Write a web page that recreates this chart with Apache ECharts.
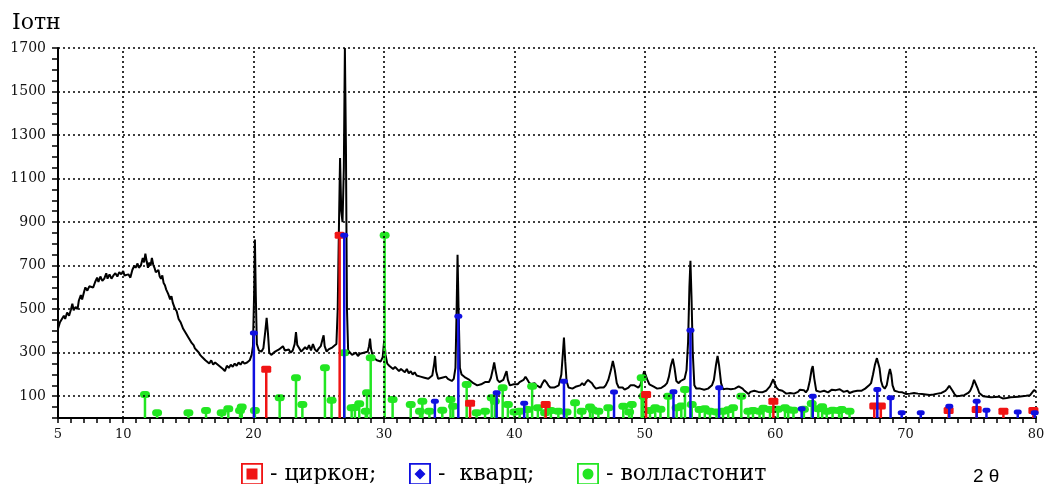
<!DOCTYPE html>
<html>
<head>
    <meta charset="UTF-8">
    <title>XRD</title>
    <script src="https://cdn.jsdelivr.net/npm/echarts@6/dist/echarts.min.js"></script>
</head>
<body style="margin:0">
<div id="chart" style="width:1048px; height:484px;"></div>
<script>
    // 2theta / intensity of the measured pattern
    var pattern = [
        [5.0,410],[5.15,440],[5.3,455],[5.45,470],[5.55,455],[5.7,485],[5.85,470],[6.0,500],[6.1,525],[6.2,495],
        [6.35,510],[6.5,500],[6.6,540],[6.75,565],[6.85,545],[7.0,580],[7.1,600],[7.25,585],[7.4,605],[7.55,610],
        [7.7,600],[7.85,625],[8.0,645],[8.1,625],[8.25,650],[8.4,630],[8.55,640],[8.7,665],[8.8,640],[8.95,660],
        [9.1,640],[9.25,655],[9.4,665],[9.55,650],[9.7,670],[9.85,660],[10.0,675],[10.1,655],[10.25,650],[10.4,660],
        [10.55,645],[10.7,680],[10.85,700],[10.95,690],[11.1,710],[11.2,690],[11.35,700],[11.5,735],[11.6,715],[11.7,755],
        [11.8,720],[11.9,690],[12.0,715],[12.1,700],[12.2,735],[12.3,705],[12.4,690],[12.5,670],[12.6,665],[12.7,680],
        [12.8,650],[12.9,640],[13.0,655],[13.1,620],[13.2,610],[13.3,590],[13.45,570],[13.6,545],[13.7,560],[13.8,530],
        [13.95,505],[14.1,490],[14.25,455],[14.4,440],[14.5,445],[14.6,410],[14.75,395],[14.9,400],[15.0,370],[15.15,355],
        [15.25,345],[15.4,335],[15.5,320],[15.65,310],[15.8,300],[15.9,290],[16.05,280],[16.15,285],[16.3,265],[16.45,270],
        [16.6,250],[16.75,265],[16.9,245],[17.05,255],[17.2,260],[17.35,240],[17.5,235],[17.65,225],[17.8,215],[17.95,240],
        [18.1,230],[18.25,245],[18.4,235],[18.55,250],[18.7,240],[18.85,255],[19.0,245],[19.15,260],[19.3,250],[19.5,255],
        [19.7,265],[19.85,290],[19.95,330],[20.05,600],[20.1,820],[20.17,560],[20.25,340],[20.4,310],[20.6,305],[20.75,320],
        [20.9,400],[21.0,460],[21.1,390],[21.2,300],[21.35,290],[21.5,295],[21.65,305],[21.8,300],[21.95,315],[22.1,320],
        [22.25,330],[22.4,310],[22.55,305],[22.7,315],[22.85,300],[23.0,310],[23.15,340],[23.25,395],[23.35,335],[23.5,320],
        [23.65,305],[23.8,310],[23.95,325],[24.1,315],[24.25,335],[24.4,310],[24.55,340],[24.7,315],[24.85,305],[25.0,320],
        [25.15,330],[25.3,365],[25.37,380],[25.45,330],[25.6,305],[25.75,315],[25.9,320],[26.05,325],[26.2,330],[26.35,340],
        [26.45,500],[26.55,900],[26.63,1195],[26.72,950],[26.82,900],[26.92,1150],[27.0,1700],[27.08,1250],[27.16,500],[27.25,310],
        [27.4,300],[27.55,290],[27.7,295],[27.85,300],[28.0,285],[28.15,295],[28.3,290],[28.45,300],[28.6,295],[28.75,305],
        [28.85,330],[28.93,365],[29.0,320],[29.15,280],[29.3,275],[29.45,265],[29.6,270],[29.75,260],[29.9,280],[30.02,360],
        [30.12,290],[30.25,250],[30.4,240],[30.55,245],[30.7,225],[30.85,235],[31.0,230],[31.15,215],[31.3,225],[31.45,220],
        [31.6,210],[31.75,225],[31.9,205],[32.05,215],[32.2,200],[32.35,210],[32.5,195],[32.65,200],[32.8,190],[32.95,195],
        [33.1,185],[33.25,190],[33.4,180],[33.55,185],[33.7,195],[33.85,250],[33.92,285],[34.0,215],[34.15,180],[34.3,175],
        [34.45,185],[34.6,180],[34.75,190],[34.9,180],[35.05,175],[35.2,170],[35.35,180],[35.48,230],[35.57,500],[35.64,750],
        [35.72,500],[35.82,230],[35.95,200],[36.1,195],[36.25,185],[36.4,190],[36.55,175],[36.7,170],[36.85,160],[37.0,155],
        [37.15,150],[37.3,145],[37.45,155],[37.6,160],[37.75,165],[37.9,170],[38.05,165],[38.2,185],[38.35,225],[38.45,255],
        [38.55,220],[38.7,175],[38.85,165],[39.0,170],[39.15,175],[39.3,200],[39.4,215],[39.5,175],[39.65,150],[39.8,145],
        [39.95,155],[40.1,160],[40.25,155],[40.4,165],[40.55,160],[40.7,175],[40.85,190],[40.95,180],[41.1,165],[41.25,155],
        [41.4,150],[41.55,160],[41.7,150],[41.85,145],[42.0,140],[42.15,160],[42.3,175],[42.45,165],[42.6,150],[42.75,140],
        [42.9,145],[43.05,140],[43.2,145],[43.4,150],[43.6,200],[43.72,300],[43.8,370],[43.9,260],[44.0,170],[44.15,140],
        [44.3,145],[44.45,135],[44.6,140],[44.75,145],[44.9,140],[45.05,150],[45.2,160],[45.35,150],[45.5,165],[45.65,175],
        [45.8,178],[45.95,160],[46.1,145],[46.25,135],[46.4,130],[46.55,140],[46.7,135],[46.85,140],[47.0,150],[47.2,175],
        [47.4,220],[47.55,262],[47.7,220],[47.85,160],[48.0,140],[48.15,135],[48.3,140],[48.45,130],[48.6,132],[48.75,140],
        [48.9,150],[49.05,155],[49.2,150],[49.35,145],[49.5,140],[49.65,150],[49.8,180],[49.95,215],[50.05,210],[50.2,175],
        [50.35,155],[50.5,150],[50.65,145],[50.8,140],[50.95,135],[51.1,140],[51.25,138],[51.4,145],[51.55,150],[51.7,160],
        [51.85,190],[52.0,240],[52.15,272],[52.28,230],[52.42,170],[52.6,160],[52.75,170],[52.9,175],[53.05,180],[53.2,220],
        [53.32,350],[53.42,600],[53.5,722],[53.58,560],[53.68,300],[53.8,150],[53.95,135],[54.1,130],[54.25,135],[54.4,132],
        [54.55,130],[54.7,138],[54.85,135],[55.0,140],[55.15,150],[55.3,175],[55.45,240],[55.58,285],[55.7,240],[55.85,160],
        [56.0,132],[56.15,128],[56.3,135],[56.45,130],[56.6,132],[56.75,138],[56.9,135],[57.05,140],[57.2,145],[57.35,150],
        [57.5,135],[57.65,125],[57.8,118],[57.95,110],[58.1,120],[58.25,118],[58.4,125],[58.55,122],[58.7,120],[58.85,125],
        [59.0,118],[59.15,122],[59.3,125],[59.45,130],[59.6,145],[59.75,165],[59.85,178],[59.95,160],[60.1,140],[60.25,130],
        [60.4,132],[60.55,125],[60.7,120],[60.85,112],[61.0,108],[61.15,115],[61.3,118],[61.45,112],[61.6,116],[61.75,120],
        [61.9,130],[62.05,138],[62.2,128],[62.35,118],[62.5,130],[62.65,170],[62.8,225],[62.88,238],[63.0,180],[63.15,125],
        [63.3,118],[63.45,120],[63.6,115],[63.75,125],[63.9,122],[64.05,118],[64.2,125],[64.35,130],[64.5,122],[64.65,128],
        [64.8,125],[64.95,132],[65.1,128],[65.25,120],[65.4,118],[65.55,125],[65.7,115],[65.85,118],[66.0,122],[66.15,120],
        [66.3,125],[66.45,122],[66.6,125],[66.75,130],[66.9,135],[67.05,140],[67.2,150],[67.35,160],[67.5,200],[67.65,245],
        [67.8,275],[67.9,270],[68.0,230],[68.12,170],[68.25,145],[68.4,135],[68.55,150],[68.7,200],[68.8,225],[68.9,200],
        [69.0,150],[69.15,125],[69.3,118],[69.45,120],[69.6,112],[69.75,118],[69.9,125],[70.05,110],[70.2,105],[70.35,112],
        [70.5,108],[70.65,115],[70.8,108],[70.95,112],[71.1,105],[71.25,110],[71.4,102],[71.55,108],[71.7,100],[71.85,106],
        [72.0,100],[72.15,108],[72.3,104],[72.45,112],[72.6,108],[72.75,115],[72.9,118],[73.05,125],[73.2,135],[73.35,148],
        [73.45,142],[73.6,125],[73.75,110],[73.9,100],[74.05,105],[74.2,102],[74.35,108],[74.5,105],[74.65,110],[74.8,115],
        [74.95,125],[75.1,145],[75.25,175],[75.35,170],[75.5,140],[75.65,115],[75.8,108],[75.95,100],[76.1,105],[76.25,98],
        [76.4,102],[76.55,95],[76.7,100],[76.85,96],[77.0,92],[77.15,98],[77.3,94],[77.45,90],[77.6,96],[77.75,92],
        [77.9,98],[78.05,95],[78.2,100],[78.35,96],[78.5,102],[78.65,98],[78.8,104],[78.95,100],[79.1,96],[79.25,102],
        [79.4,98],[79.55,105],[79.7,112],[79.85,128],[80.0,122]
    ];

    // reference lines (2theta, relative intensity)
    var zircon = [[20.97,224],[26.6,840],[36.6,68],[42.4,62],[50.1,108],[59.86,77],[67.6,55],[68.1,55],
        [73.3,35],[75.45,39],[77.5,31],[79.8,35]];
    var quartz = [[20.02,390],[26.95,840],[33.9,77],[35.7,468],[38.64,116],[40.75,68],[43.8,169],[47.64,119],
        [52.2,121],[53.5,403],[55.7,139],[62.03,42],[62.88,100],[67.83,131],[68.85,93],[69.7,24],[71.16,24],
        [73.35,54],[75.45,77],[76.2,36],[78.6,27],[79.9,24]];
    var wollastonite = [[11.67,108],[12.6,24],[15.0,24],[16.35,35],[17.55,24],[18.06,42],[18.96,35],[19.09,51],
        [20.1,35],[22.0,93],[23.25,185],[23.74,62],[25.47,231],[25.98,82],[26.95,300],[27.52,47],[27.77,48],
        [28.1,65],[28.6,31],[28.7,116],[28.98,277],[30.05,840],[30.66,85],[32.05,62],[32.76,31],[32.94,77],
        [33.48,31],[34.47,36],[35.1,85],[35.3,54],[36.34,154],[37.1,24],[37.75,31],[38.26,93],[38.5,77],
        [39.1,139],[39.5,62],[40.0,28],[40.4,31],[41.0,39],[41.36,146],[41.8,47],[42.35,24],[42.8,35],[43.37,31],
        [44.0,27],[44.65,70],[45.16,31],[45.8,51],[46.0,38],[46.44,31],[47.2,47],[48.35,54],[48.8,28],[49.0,62],
        [49.76,185],[49.9,100],[50.4,35],[50.8,47],[51.2,40],[51.8,100],[52.44,47],[52.8,55],[53.08,131],[53.6,62],
        [54.2,39],[54.6,42],[55.0,31],[55.5,28],[56.0,31],[56.4,38],[56.77,47],[57.4,100],[57.94,31],[58.3,35],
        [58.8,31],[59.1,45],[59.6,39],[60.2,40],[60.75,47],[61.0,38],[61.4,36],[62.2,40],[62.8,67],[63.3,42],
        [63.6,52],[63.95,31],[64.4,36],[64.9,35],[65.1,39],[65.7,31]];

    var xLabels = [5, 10, 20, 30, 40, 50, 60, 70, 80];
    var yLabels = [100, 300, 500, 700, 900, 1100, 1300, 1500, 1700];

    var RED = '#f01414', BLUE = '#1010e0', GREEN = '#22e622';

    function stick(capW, capH, capR) {
        return function (params, api) {
            var x = api.value(0), v = api.value(1);
            var p0 = api.coord([x, 0]);
            var p1 = api.coord([x, v]);
            var c = api.visual('color');
            return {
                type: 'group',
                children: [
                    {type: 'line', shape: {x1: p0[0], y1: p0[1], x2: p1[0], y2: p1[1]},
                        style: {stroke: c, lineWidth: 2.5}},
                    {type: 'rect', shape: {x: p1[0] - capW / 2, y: p1[1] - capH / 2, width: capW, height: capH, r: capR},
                        style: {fill: c}}
                ]
            };
        };
    }

    var box = 'M0,0H24V24H0Z M2,2V22H22V2Z ';
    var icons = {
        'циркон': 'path://' + box + 'M6,6H18V18H6Z',
        'кварц': 'path://' + box + 'M12,6L18,12L12,18L6,12Z',
        'волластонит': 'path://' + box + 'M6,12A6,6,0,1,1,18,12A6,6,0,1,1,6,12Z'
    };
    var legendText = {
        'циркон': '- циркон;',
        'кварц': '-  кварц;',
        'волластонит': '- волластонит'
    };

    function legendAt(name, left) {
        return {
            data: [{name: name, icon: icons[name]}],
            left: left, top: 458,
            itemWidth: 22, itemHeight: 22,
            selectedMode: false,
            formatter: function (n) { return legendText[n]; },
            textStyle: {fontFamily: 'DejaVu Serif', fontSize: 22, color: '#000', padding: [0, 0, 0, 2]}
        };
    }

    var chart = echarts.init(document.getElementById('chart'), null, {renderer: 'canvas'});
    var option = {
        animation: false,
        backgroundColor: '#fff',
        grid: {left: 58, right: 12, top: 48, bottom: 66},
        legend: [legendAt('циркон', 236), legendAt('кварц', 404), legendAt('волластонит', 572)],
        graphic: [
            {type: 'text', left: 12, top: 12, style: {text: 'Iотн', font: '22px "DejaVu Serif"', fill: '#000'}},
            {type: 'text', left: 973, top: 467, style: {text: '2 θ', font: '19px "Liberation Sans"', fill: '#000'}}
        ],
        xAxis: {
            type: 'value', min: 5, max: 80, interval: 1,
            axisLine: {lineStyle: {color: '#000', width: 2}},
            axisTick: {length: 5, lineStyle: {color: '#000', width: 1.5}},
            axisLabel: {
                margin: 10, color: '#111', fontFamily: 'DejaVu Serif', fontSize: 13,
                formatter: function (v) { return xLabels.indexOf(v) >= 0 ? String(v) : ''; }
            },
            splitLine: {show: false}
        },
        yAxis: {
            type: 'value', min: 0, max: 1700, interval: 50,
            axisLine: {show: true, lineStyle: {color: '#000', width: 2}},
            axisTick: {show: true, length: 6, lineStyle: {color: '#000', width: 1.5}},
            axisLabel: {
                margin: 12, color: '#111', fontFamily: 'DejaVu Serif', fontSize: 14,
                formatter: function (v) { return yLabels.indexOf(v) >= 0 ? String(v) : ''; }
            },
            splitLine: {show: false}
        },
        series: [
            {
                // dotted grid
                type: 'line', data: [], z: 1, silent: true,
                markLine: {
                    silent: true, symbol: ['none', 'none'], label: {show: false},
                    lineStyle: {type: [2, 3], color: '#000', width: 1.6},
                    data: xLabels.filter(function (v) { return v > 5; }).map(function (v) { return {xAxis: v}; })
                        .concat(yLabels.map(function (v) { return {yAxis: v}; }))
                }
            },
            {
                name: 'pattern', type: 'line', data: pattern, z: 3,
                showSymbol: false, symbol: 'none',
                lineStyle: {color: '#000', width: 2}
            },
            {
                name: 'волластонит', type: 'custom', data: wollastonite, z: 4,
                itemStyle: {color: GREEN}, encode: {x: 0, y: 1},
                renderItem: stick(10, 7, 3.5)
            },
            {
                name: 'циркон', type: 'custom', data: zircon, z: 5,
                itemStyle: {color: RED}, encode: {x: 0, y: 1},
                renderItem: stick(10, 7, 1.5)
            },
            {
                name: 'кварц', type: 'custom', data: quartz, z: 6,
                itemStyle: {color: BLUE}, encode: {x: 0, y: 1},
                renderItem: stick(8, 5, 2.5)
            }
        ]
    };
    chart.setOption(option);
</script>
</body>
</html>
